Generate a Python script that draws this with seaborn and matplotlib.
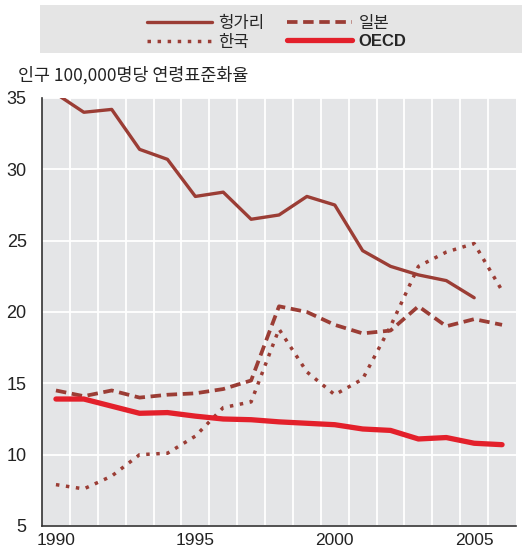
import matplotlib
matplotlib.use("Agg")
import matplotlib.pyplot as plt
import matplotlib.patches as mpatches
from matplotlib.ticker import FixedLocator
import pandas as pd
import seaborn as sns

years = list(range(1990, 2007))

hungary = [35.3, 34.0, 34.2, 31.4, 30.7, 28.1, 28.4, 26.5, 26.8, 28.1,
           27.5, 24.3, 23.2, 22.6, 22.2, 21.0, None]
japan = [14.5, 14.1, 14.5, 14.0, 14.2, 14.3, 14.6, 15.2, 20.4, 20.0,
         19.1, 18.5, 18.7, 20.4, 19.0, 19.5, 19.1]
korea = [7.9, 7.6, 8.5, 10.0, 10.1, 11.3, 13.3, 13.7, 18.8, 15.8,
         14.2, 15.3, 19.0, 23.2, 24.2, 24.8, 21.5]
oecd = [13.9, 13.9, 13.4, 12.9, 12.95, 12.7, 12.5, 12.45, 12.3, 12.2,
        12.1, 11.8, 11.7, 11.1, 11.2, 10.8, 10.7]

labels = ["헝가리", "일본", "한국", "OECD"]
year_labels = [1990, 1995, 2000, 2005]

BROWN = "#9b3d35"
RED = "#e3202b"
BG = "#e4e5e7"

sns.set_theme(style="white")
plt.rcParams["font.family"] = ["Liberation Sans Narrow", "Liberation Sans", "DejaVu Sans"]

df = pd.DataFrame({"year": years, "hungary": hungary, "japan": japan,
                   "korea": korea, "oecd": oecd})

fig = plt.figure(figsize=(5.22, 5.51), dpi=100)
ax = fig.add_axes([42 / 522, 25 / 551, 474 / 522, 428 / 551])
ax.set_facecolor(BG)

sns.lineplot(data=df, x="year", y="hungary", ax=ax, color=BROWN, lw=2.4,
             label=labels[0])
sns.lineplot(data=df, x="year", y="korea", ax=ax, color=BROWN, lw=2.5,
             label=labels[2])
ax.lines[-1].set_dashes((1.0, 1.9))
sns.lineplot(data=df, x="year", y="japan", ax=ax, color=BROWN, lw=2.7,
             label=labels[1])
ax.lines[-1].set_dashes((2.8, 1.5))
sns.lineplot(data=df, x="year", y="oecd", ax=ax, color=RED, lw=3.8,
             label=labels[3])

ax.set_xlim(1989.5, 2006.5)
ax.set_ylim(5, 35)
ax.set_xlabel("")
ax.set_ylabel("")

# band edges carry the grid and the ticks, labels sit at band centres
edges = [y + 0.5 for y in years[:-1]]
ax.xaxis.set_major_locator(FixedLocator(year_labels))
ax.xaxis.set_minor_locator(FixedLocator(edges))
ax.set_yticks([5, 10, 15, 20, 25, 30, 35])
ax.yaxis.set_minor_locator(FixedLocator([35]))
ax.tick_params(axis="x", which="major", length=0, pad=5, labelsize=12.5,
               colors="#222222")
ax.tick_params(axis="x", which="minor", direction="in", length=4,
               width=0.8, color="#333333")
ax.tick_params(axis="y", which="major", length=0, pad=11, labelsize=13,
               colors="#222222")
ax.tick_params(axis="y", which="minor", direction="in", length=5,
               width=1.2, color="#333333")
ax.grid(False)
ax.grid(axis="x", which="minor", color="white", lw=1.3)
ax.grid(axis="y", which="major", color="white", lw=1.3)

for side in ["top", "right"]:
    ax.spines[side].set_visible(False)
for side in ["left", "bottom"]:
    ax.spines[side].set_color("#333333")
    ax.spines[side].set_linewidth(1.2)

handles, _ = ax.get_legend_handles_labels()
ax.get_legend().remove()

fig.patches.append(mpatches.Rectangle((40 / 522, 1 - 53 / 551), 482 / 522, 48 / 551,
                                      transform=fig.transFigure,
                                      facecolor="#e5e5e5", edgecolor="none"))
leg = fig.legend(handles, [labels[0], labels[2], labels[1], labels[3]], ncol=2,
                 loc="upper left", bbox_to_anchor=(132 / 522, 1.0),
                 frameon=False, handlelength=3.9, handletextpad=0.36,
                 columnspacing=1.4, labelspacing=0.1,
                 prop={"family": ["Noto Sans CJK KR", "DejaVu Sans"], "size": 12})
for t in leg.get_texts():
    if t.get_text() == "OECD":
        t.set_fontweight("bold")
        t.set_family(["Liberation Sans", "DejaVu Sans"])

fig.text(18 / 522, 1 - 75 / 551, "인구 100,000명당 연령표준화율", va="center",
         ha="left", fontsize=12.5, color="#222222",
         family=["Noto Sans CJK KR", "DejaVu Sans"])

fig.savefig("out.png", dpi=100)
